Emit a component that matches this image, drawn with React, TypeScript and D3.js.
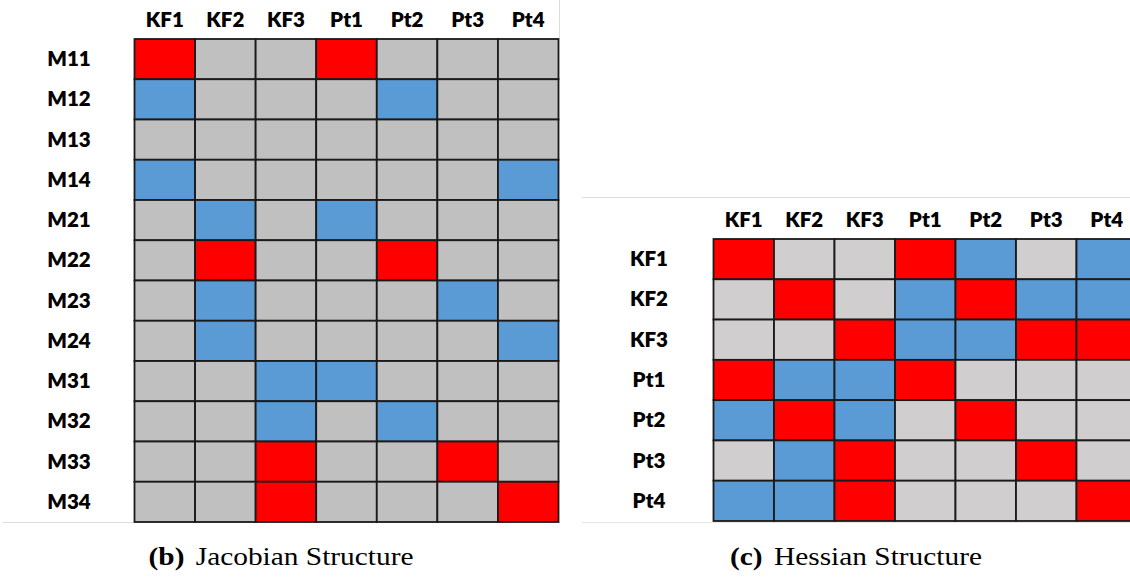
import React from "react";
import * as d3 from "d3";

// Sparsity patterns: "R" = strong (red), "B" = coupled (blue), "0" = zero (gray)
const jacCols = ["KF1", "KF2", "KF3", "Pt1", "Pt2", "Pt3", "Pt4"];
const jacRows = ["M11", "M12", "M13", "M14", "M21", "M22", "M23", "M24", "M31", "M32", "M33", "M34"];
const jacCells = [
  "R00R000",
  "B000B00",
  "0000000",
  "B00000B",
  "0B0B000",
  "0R00R00",
  "0B000B0",
  "0B0000B",
  "00BB000",
  "00B0B00",
  "00R00R0",
  "00R000R",
];

const hesCols = ["KF1", "KF2", "KF3", "Pt1", "Pt2", "Pt3", "Pt4"];
const hesRows = ["KF1", "KF2", "KF3", "Pt1", "Pt2", "Pt3", "Pt4"];
const hesCells = [
  "R00RB0B",
  "0R0BRBB",
  "00RBBRR",
  "RBBR000",
  "BRB0R00",
  "0BR00R0",
  "BBR000R",
];

const W = 1130;
const H = 581;
const labelFont = "Lato, 'Open Sans', sans-serif";
const captionFont = "'Liberation Serif', 'DejaVu Serif', serif";

type GridProps = {
  cols: string[];
  rows: string[];
  cells: string[];
  x0: number;
  x1: number;
  y0: number;
  y1: number;
  labelX: number;
  zeroFill: string;
};

function Grid({ cols, rows, cells, x0, x1, y0, y1, labelX, zeroFill }: GridProps) {
  const x = d3.scaleBand<string>().domain(cols).range([x0, x1]).padding(0);
  const y = d3.scaleBand<string>().domain(rows).range([y0, y1]).padding(0);
  const color = d3
    .scaleOrdinal<string, string>()
    .domain(["R", "B", "0"])
    .range(["#ff0000", "#5b9bd5", zeroFill]);
  return (
    <g>
      {rows.map((r, i) =>
        cols.map((c, j) => (
          <rect
            key={r + c}
            x={x(c)}
            y={y(r)}
            width={x.bandwidth()}
            height={y.bandwidth()}
            fill={color(cells[i][j])}
            stroke="#1a1a1a"
            strokeWidth={1.8}
          />
        ))
      )}
      {cols.map((c) => (
        <text
          key={"c" + c}
          x={(x(c) as number) + x.bandwidth() / 2}
          y={y0 - 12}
          textAnchor="middle"
          fontFamily={labelFont}
          fontWeight={800}
          fontSize={20.5}
          fill="#000"
        >
          {c}
        </text>
      ))}
      {rows.map((r) => (
        <text
          key={"r" + r}
          x={labelX}
          y={(y(r) as number) + y.bandwidth() / 2 + 7}
          textAnchor="middle"
          fontFamily={labelFont}
          fontWeight={800}
          fontSize={20.5}
          fill="#000"
        >
          {r}
        </text>
      ))}
    </g>
  );
}

function Caption({ cx, tag, title }: { cx: number; tag: string; title: string }) {
  return (
    <text
      transform={`translate(${cx},565) scale(1.13,1)`}
      textAnchor="middle"
      fontFamily={captionFont}
      fontSize={26}
      fill="#000"
    >
      <tspan fontWeight={700}>{tag}</tspan>
      <tspan dx={10}>{title}</tspan>
    </text>
  );
}

export default function App() {
  return (
    <svg
      width={W}
      height={H}
      viewBox={`0 0 ${W} ${H}`}
      style={{ position: "absolute", left: 0, top: 0, background: "#fff" }}
    >
      {/* faint sheet borders */}
      <line x1={3} x2={560} y1={522.5} y2={522.5} stroke="#dcdcdc" strokeWidth={1} />
      <line x1={559.5} x2={559.5} y1={0} y2={39} stroke="#dcdcdc" strokeWidth={1} />
      <line x1={582} x2={W} y1={197.5} y2={197.5} stroke="#dcdcdc" strokeWidth={1} />
      <line x1={582} x2={W} y1={522.5} y2={522.5} stroke="#e6e6e6" strokeWidth={1} />

      <Grid
        cols={jacCols}
        rows={jacRows}
        cells={jacCells}
        x0={134.5}
        x1={558.5}
        y0={39}
        y1={522}
        labelX={69}
        zeroFill="#c0c0c0"
      />
      <Grid
        cols={hesCols}
        rows={hesRows}
        cells={hesCells}
        x0={713.5}
        x1={1137}
        y0={239}
        y1={521}
        labelX={649}
        zeroFill="#d0cece"
      />

      <Caption cx={281} tag="(b)" title="Jacobian Structure" />
      <Caption cx={856} tag="(c)" title="Hessian Structure" />
    </svg>
  );
}
